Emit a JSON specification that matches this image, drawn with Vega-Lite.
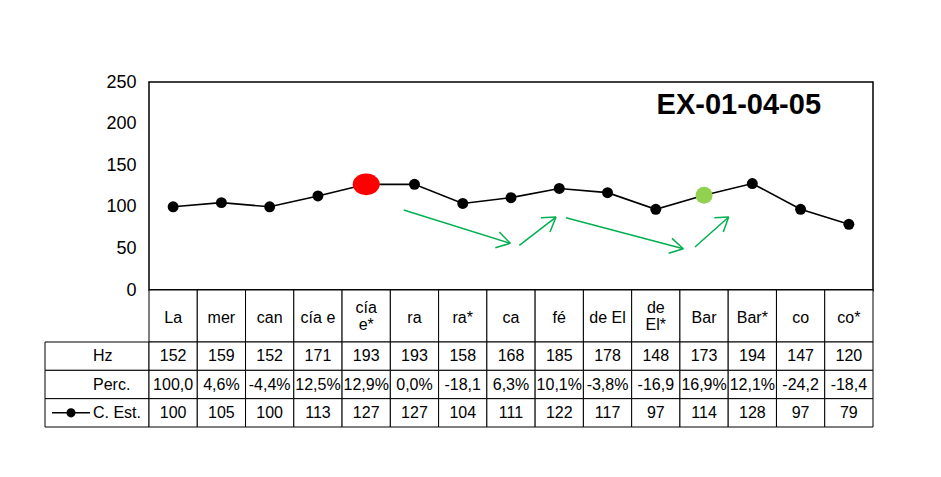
{
  "$schema": "https://vega.github.io/schema/vega-lite/v6.json",
  "background": "white",
  "padding": {"left": 44, "top": 72, "right": 10, "bottom": 10},
  "autosize": {"type": "pad"},
  "columns": 2,
  "spacing": 0,
  "bounds": "flush",
  "config": {"font": "Liberation Sans", "view": {"stroke": null}, "text": {"color": "black"}},
  "datasets": {
    "syl": [
      {"n": 1, "cat": "La", "hz": 152, "perc": "100,0", "est": 100},
      {"n": 2, "cat": "mer", "hz": 159, "perc": "4,6%", "est": 105},
      {"n": 3, "cat": "can", "hz": 152, "perc": "-4,4%", "est": 100},
      {"n": 4, "cat": "cía e", "hz": 171, "perc": "12,5%", "est": 113},
      {"n": 5, "cat": "cía\ne*", "hz": 193, "perc": "12,9%", "est": 127},
      {"n": 6, "cat": "ra", "hz": 193, "perc": "0,0%", "est": 127},
      {"n": 7, "cat": "ra*", "hz": 158, "perc": "-18,1", "est": 104},
      {"n": 8, "cat": "ca", "hz": 168, "perc": "6,3%", "est": 111},
      {"n": 9, "cat": "fé", "hz": 185, "perc": "10,1%", "est": 122},
      {"n": 10, "cat": "de El", "hz": 178, "perc": "-3,8%", "est": 117},
      {"n": 11, "cat": "de\nEl*", "hz": 148, "perc": "-16,9", "est": 97},
      {"n": 12, "cat": "Bar", "hz": 173, "perc": "16,9%", "est": 114},
      {"n": 13, "cat": "Bar*", "hz": 194, "perc": "12,1%", "est": 128},
      {"n": 14, "cat": "co", "hz": 147, "perc": "-24,2", "est": 97},
      {"n": 15, "cat": "co*", "hz": 120, "perc": "-18,4", "est": 79}
    ],
    "arrows": [
      {"x": 5.777, "y": 96.2, "x2": 7.985, "y2": 56.1},
      {"x": 7.985, "y": 56.1, "x2": 7.758, "y2": 69.7},
      {"x": 7.985, "y": 56.1, "x2": 7.675, "y2": 50.8},
      {"x": 8.172, "y": 53.7, "x2": 8.932, "y2": 87.7},
      {"x": 8.932, "y": 87.7, "x2": 8.621, "y2": 86.9},
      {"x": 8.932, "y": 87.7, "x2": 8.808, "y2": 69.7},
      {"x": 9.139, "y": 86.9, "x2": 11.57, "y2": 49.6},
      {"x": 11.57, "y": 49.6, "x2": 11.336, "y2": 62.1},
      {"x": 11.57, "y": 49.6, "x2": 11.267, "y2": 44.1},
      {"x": 11.812, "y": 51.7, "x2": 12.51, "y2": 87.7},
      {"x": 12.51, "y": 87.7, "x2": 12.212, "y2": 86.9},
      {"x": 12.51, "y": 87.7, "x2": 12.398, "y2": 69.7}
    ],
    "rows": [
      {"row": "hz", "label": "Hz"},
      {"row": "perc", "label": "Perc."},
      {"row": "est", "label": "C. Est."}
    ]
  },
  "concat": [
    {
      "width": 104, "height": 208,
      "data": {"values": []},
      "mark": "point"
    },
    {
      "width": 724, "height": 208,
      "view": {"stroke": "black", "strokeWidth": 1.5},
      "layer": [
        {
          "data": {"name": "syl"},
          "mark": {"type": "line", "color": "black", "strokeWidth": 1.6},
          "encoding": {
            "x": {"field": "n", "type": "quantitative", "scale": {"domain": [0.5, 15.5], "nice": false},
                  "axis": {"title": null, "labels": false, "ticks": false, "grid": false, "domain": true, "domainColor": "black", "domainWidth": 2.5}},
            "y": {"field": "est", "type": "quantitative", "scale": {"domain": [0, 250], "nice": false},
                  "axis": {"title": null, "values": [0, 50, 100, 150, 200, 250], "ticks": false, "domain": false, "grid": false,
                           "labelFontSize": 18, "labelColor": "black", "labelPadding": 13, "labelFont": "Liberation Sans"}}
          }
        },
        {
          "data": {"name": "syl"},
          "mark": {"type": "point", "filled": true, "color": "black", "opacity": 1, "size": 120},
          "encoding": {"x": {"field": "n", "type": "quantitative"}, "y": {"field": "est", "type": "quantitative"}}
        },
        {
          "data": {"name": "syl"},
          "transform": [{"filter": "datum.n == 5"}],
          "mark": {"type": "point", "filled": true, "color": "#FF0000", "opacity": 1, "size": 729,
                   "shape": "M-1,0A1,0.8 0 1,0 1,0A1,0.8 0 1,0 -1,0Z"},
          "encoding": {"x": {"field": "n", "type": "quantitative"}, "y": {"field": "est", "type": "quantitative"}}
        },
        {
          "data": {"name": "syl"},
          "transform": [{"filter": "datum.n == 12"}],
          "mark": {"type": "point", "filled": true, "color": "#92D050", "opacity": 1, "size": 290},
          "encoding": {"x": {"field": "n", "type": "quantitative"}, "y": {"field": "est", "type": "quantitative"}}
        },
        {
          "data": {"name": "arrows"},
          "mark": {"type": "rule", "color": "#00B050", "strokeWidth": 1.5},
          "encoding": {
            "x": {"field": "x", "type": "quantitative"}, "y": {"field": "y", "type": "quantitative"},
            "x2": {"field": "x2"}, "y2": {"field": "y2"}
          }
        },
        {
          "data": {"values": [{}]},
          "mark": {"type": "text", "text": "EX-01-04-05", "fontSize": 29, "fontWeight": "bold", "align": "center", "baseline": "alphabetic", "color": "black"},
          "encoding": {"x": {"datum": 12.72}, "y": {"datum": 212}}
        }
      ]
    },
    {
      "width": 104, "height": 52,
      "data": {"values": []},
      "mark": "point"
    },
    {
      "width": 724, "height": 52,
      "data": {"name": "syl"},
      "encoding": {
        "x": {"field": "cat", "type": "nominal",
              "scale": {"domain": ["La", "mer", "can", "cía e", "cía\ne*", "ra", "ra*", "ca", "fé", "de El", "de\nEl*", "Bar", "Bar*", "co", "co*"], "paddingInner": 0, "paddingOuter": 0},
              "axis": null}
      },
      "layer": [
        {"mark": {"type": "rect", "fill": "white", "stroke": "black", "strokeWidth": 1}},
        {"transform": [{"filter": "datum.n != 5 && datum.n != 11"}],
         "mark": {"type": "text", "fontSize": 16, "baseline": "middle", "color": "black", "dy": 2},
         "encoding": {"text": {"field": "cat"}}},
        {"transform": [{"filter": "datum.n == 5 || datum.n == 11"}],
         "mark": {"type": "text", "fontSize": 16, "lineBreak": "\n", "lineHeight": 17, "baseline": "middle", "color": "black", "dy": -8},
         "encoding": {"text": {"field": "cat"}}}
      ]
    },
    {
      "width": 104, "height": 85,
      "data": {"name": "rows"},
      "encoding": {
        "y": {"field": "row", "type": "nominal", "scale": {"domain": ["hz", "perc", "est"], "paddingInner": 0, "paddingOuter": 0}, "axis": null}
      },
      "layer": [
        {"mark": {"type": "rect", "fill": "white", "stroke": "black", "strokeWidth": 1}},
        {"mark": {"type": "text", "fontSize": 16, "align": "left", "dx": -4, "baseline": "middle", "color": "black"},
         "encoding": {"text": {"field": "label"}}},
        {"transform": [{"filter": "datum.row == 'est'"}],
         "mark": {"type": "point", "filled": true, "color": "black", "stroke": "black", "strokeWidth": 1.5, "opacity": 1, "size": 1444,
                  "shape": "M-1,0H1M-0.2,0A0.2,0.2 0 1,0 0.2,0A0.2,0.2 0 1,0 -0.2,0Z"},
         "encoding": {"x": {"datum": "k", "type": "nominal", "scale": {"domain": ["k", "t"], "paddingInner": 0, "paddingOuter": 0}, "axis": null}}}
      ]
    },
    {
      "width": 724, "height": 85,
      "data": {"name": "syl"},
      "transform": [{"fold": ["hz", "perc", "est"], "as": ["row", "val"]}],
      "encoding": {
        "x": {"field": "cat", "type": "nominal",
              "scale": {"domain": ["La", "mer", "can", "cía e", "cía\ne*", "ra", "ra*", "ca", "fé", "de El", "de\nEl*", "Bar", "Bar*", "co", "co*"], "paddingInner": 0, "paddingOuter": 0},
              "axis": null},
        "y": {"field": "row", "type": "nominal", "scale": {"domain": ["hz", "perc", "est"], "paddingInner": 0, "paddingOuter": 0}, "axis": null}
      },
      "layer": [
        {"mark": {"type": "rect", "fill": "white", "stroke": "black", "strokeWidth": 1}},
        {"mark": {"type": "text", "fontSize": 16, "baseline": "middle", "color": "black"},
         "encoding": {"text": {"field": "val", "type": "nominal"}}}
      ]
    }
  ]
}
